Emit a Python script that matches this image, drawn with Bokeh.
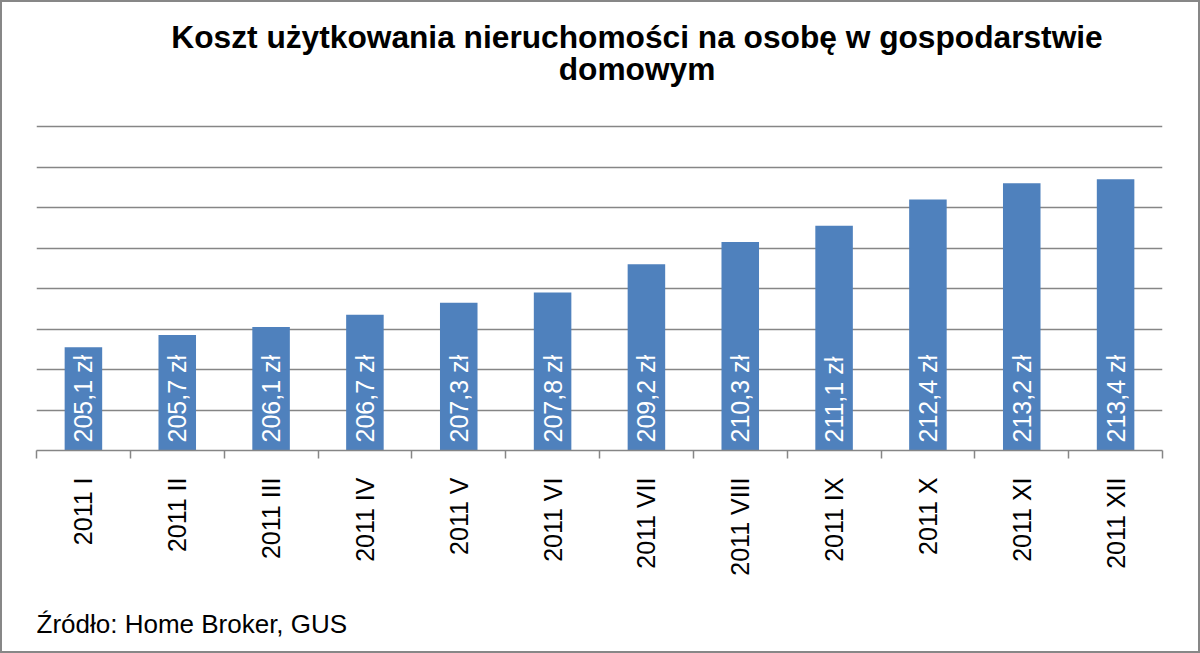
import math
from bokeh.plotting import figure
from bokeh.layouts import column
from bokeh.models import (FactorRange, Range1d, LinearAxis, FixedTicker, Grid,
                          ColumnDataSource, LabelSet, Label)
from bokeh.core.properties import value
from bokeh.embed import file_html
from bokeh.resources import INLINE

# ---- data ----
months = ["2011 I", "2011 II", "2011 III", "2011 IV", "2011 V", "2011 VI",
          "2011 VII", "2011 VIII", "2011 IX", "2011 X", "2011 XI", "2011 XII"]
costs = [205.1, 205.7, 206.1, 206.7, 207.3, 207.8, 209.2, 210.3, 211.1, 212.4, 213.2, 213.4]
value_labels = [f"{v:.1f}".replace(".", ",") + " zł" for v in costs]
title_lines = ["Koszt użytkowania nieruchomości na osobę w gospodarstwie", "domowym"]
source_note = "Źródło: Home Broker, GUS"
y_min, y_grid_max, y_step = 200, 216, 2

BAR = "#4F81BD"
GRAY = "#868686"
FONT = "Liberation Sans"

# layout (pixels)
W, H, H_MAIN = 1196, 649, 583
FRAME_LEFT, FRAME_W, PX_PER_UNIT, BASE_Y = 34, 1126, 20.25, 448
y_top = y_min + BASE_Y / PX_PER_UNIT   # room above the grid for the title

src = ColumnDataSource(dict(month=months, cost=costs, label=value_labels))

p = figure(width=W, height=H_MAIN, title=None,
           x_range=FactorRange(factors=months), y_range=Range1d(y_min, y_top),
           x_axis_location=None, y_axis_location=None,
           toolbar_location=None, output_backend="svg",
           min_border_left=FRAME_LEFT, min_border_right=W - FRAME_LEFT - FRAME_W,
           min_border_top=0, min_border_bottom=H_MAIN - BASE_Y)
p.outline_line_color = None
p.background_fill_color = "white"
p.border_fill_color = "white"
p.xgrid.visible = False
p.ygrid.visible = False

# horizontal gridlines
p.add_layout(Grid(dimension=1,
                  ticker=FixedTicker(ticks=list(range(y_min, y_grid_max + 1, y_step))),
                  grid_line_color=GRAY, grid_line_width=1.5))

p.vbar(x="month", top="cost", bottom=y_min, width=0.4, source=src,
       fill_color=BAR, line_color=None)

p.add_layout(LabelSet(x="month", y=y_min, text="label", source=src,
                      angle=math.pi / 2, text_align="left", text_baseline="middle",
                      y_offset=8, text_color="white",
                      text_font=value(FONT), text_font_size="25px"))

# x axis: labels at category centres, tick marks at category boundaries
centres = [i + 0.5 for i in range(len(months))]
bounds = list(range(len(months) + 1))
xaxis = LinearAxis(ticker=FixedTicker(ticks=centres, minor_ticks=bounds),
                   major_label_overrides={c: m for c, m in zip(centres, months)},
                   major_tick_line_color=None, major_tick_out=0, major_tick_in=0,
                   minor_tick_out=8, minor_tick_in=0,
                   minor_tick_line_color=GRAY, minor_tick_line_width=1.5,
                   axis_line_color=GRAY, axis_line_width=1.5,
                   major_label_orientation=math.pi / 2,
                   major_label_standoff=19,
                   major_label_text_font=FONT,
                   major_label_text_font_size="25px",
                   major_label_text_color="black")
p.add_layout(xaxis, "below")

# title (two lines) drawn in the space above the grid
for line, y in zip(title_lines, [220.44, 218.86]):
    p.add_layout(Label(x=6.4, y=y, text=line, text_align="center",
                       text_baseline="alphabetic", text_font=FONT,
                       text_font_style="bold", text_font_size="31.7px",
                       text_color="black"))

# source note strip below the chart (its frame is aligned with the chart's frame)
H_NOTE = H - H_MAIN
note = figure(width=W, height=H_NOTE, title=None,
              x_range=Range1d(0, W), y_range=Range1d(0, H_NOTE),
              x_axis_location=None, y_axis_location=None,
              toolbar_location=None, output_backend="svg", min_border=0)
note.outline_line_color = None
note.background_fill_color = "white"
note.border_fill_color = "white"
note.xgrid.visible = False
note.ygrid.visible = False
note.add_layout(Label(x=0, y=28, text=source_note, text_align="left",
                      text_baseline="alphabetic", text_font=FONT,
                      text_font_size="26px", text_color="black"))

layout = column(p, note, spacing=0)
layout.styles = {"border": "2px solid #878787"}

open("out.html", "w").write(file_html(layout, INLINE))
